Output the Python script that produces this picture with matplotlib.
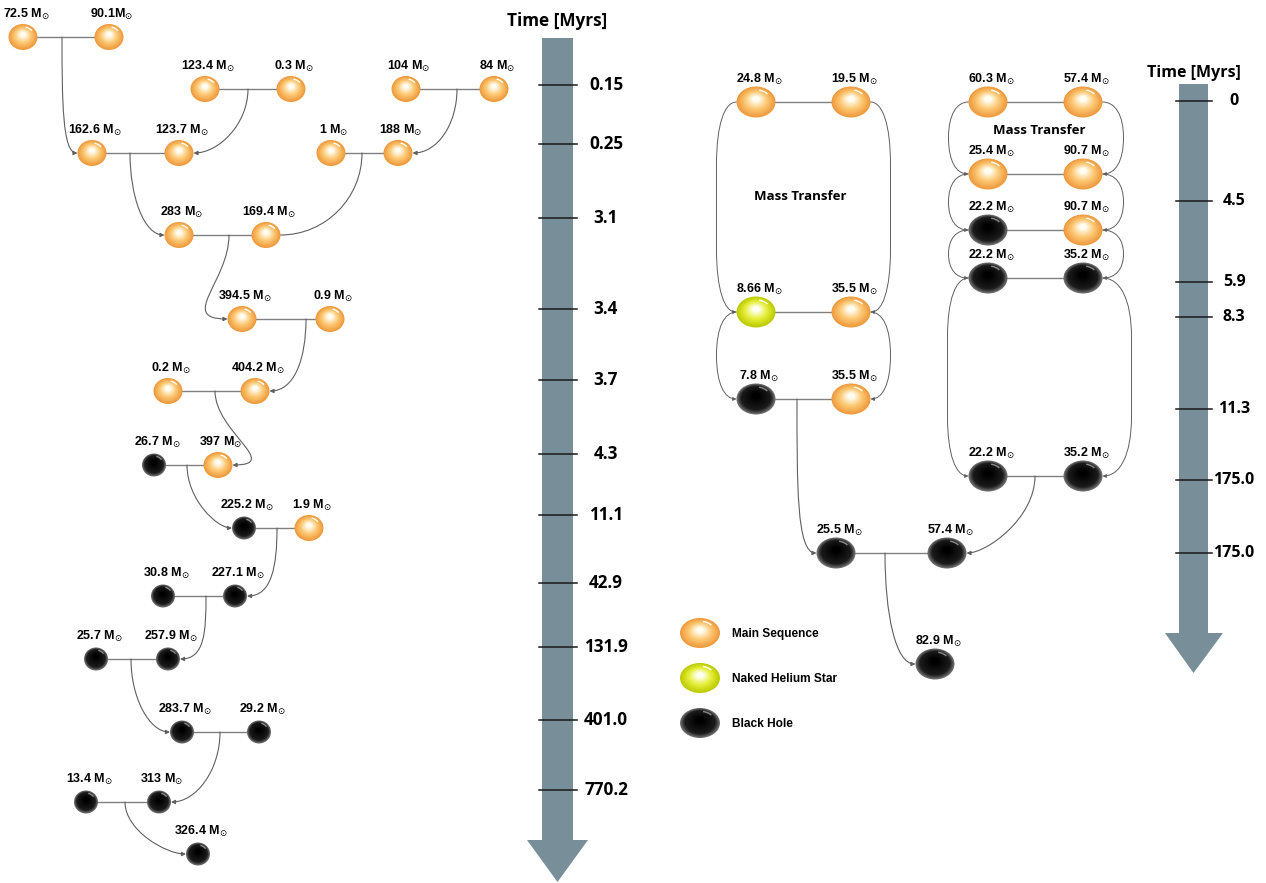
import numpy as np
import matplotlib
matplotlib.use("Agg")
from matplotlib import pyplot as plt
from matplotlib.patches import Ellipse, Arc, Polygon, FancyArrowPatch
from matplotlib.path import Path
from matplotlib.colors import to_rgb

# ---- left evolution track (masses in solar masses) ----
leftLabel = ["72.5 M", "90.1M", "123.4 M", "0.3 M", "104 M", "84 M",
             "162.6 M", "123.7 M", "1 M", "188 M", "283 M", "169.4 M",
             "394.5 M", "0.9 M", "0.2 M", "404.2 M", "26.7 M", "397 M",
             "225.2 M", "1.9 M", "30.8 M", "227.1 M", "25.7 M", "257.9 M",
             "283.7 M", "29.2 M", "13.4 M", "313 M", "326.4 M"]
leftKind = ["ms"] * 16 + ["bh", "ms", "bh", "ms"] + ["bh"] * 9
leftPairs = [(0, 1), (2, 3), (4, 5), (6, 7), (8, 9), (10, 11), (12, 13),
             (14, 15), (16, 17), (18, 19), (20, 21), (22, 23), (24, 25), (26, 27)]
# (pair, target node, side of target)
leftDrops = [(0, 6, "left"), (1, 7, "right"), (2, 9, "right"), (3, 10, "left"),
             (4, 11, "right"), (5, 12, "left"), (6, 15, "right"), (7, 17, "right"),
             (8, 18, "left"), (9, 21, "right"), (10, 23, "right"), (11, 24, "left"),
             (12, 27, "right"), (13, 28, "left")]
leftTimes = ["0.15", "0.25", "3.1", "3.4", "3.7", "4.3", "11.1", "42.9",
             "131.9", "401.0", "770.2"]

# ---- right evolution track ----
rightLabel = ["24.8 M", "19.5 M", "8.66 M", "35.5 M", "7.8 M", "35.5 M",
              "60.3 M", "57.4 M", "25.4 M", "90.7 M", "22.2 M", "90.7 M",
              "22.2 M", "35.2 M", "22.2 M", "35.2 M", "25.5 M", "57.4 M", "82.9 M"]
rightKind = ["ms", "ms", "he", "ms", "bh", "ms", "ms", "ms", "ms", "ms",
             "bh", "ms", "bh", "bh", "bh", "bh", "bh", "bh", "bh"]
rightPairs = [(0, 1), (2, 3), (4, 5), (6, 7), (8, 9), (10, 11), (12, 13),
              (14, 15), (16, 17)]
# mass transfer loops: (from node, to node, side)
rightLoops = [(0, 2, "left"), (1, 3, "right"), (2, 4, "left"), (3, 5, "right"),
              (6, 8, "left"), (7, 9, "right"), (8, 10, "left"), (9, 11, "right"),
              (10, 12, "left"), (11, 13, "right"), (12, 14, "left"), (13, 15, "right")]
rightDrops = [(2, 16, "left"), (8, 18, "left"), (7, 17, "right")]
rightTimes = ["0", "4.5", "5.9", "8.3", "11.3", "175.0", "175.0"]

legendNames = ["Main Sequence", "Naked Helium Star", "Black Hole"]
legendKinds = ["ms", "he", "bh"]

# ---- layout (pixel positions) ----
leftX = [23, 109, 205, 291, 406, 494, 92, 179, 331, 398, 179, 266, 242, 330,
         168, 255, 154, 218, 244, 309, 163, 235, 96, 168, 182, 259, 86, 159, 198]
leftY = [37, 37, 89, 89, 89, 89, 153, 153, 153, 153, 235, 235, 319, 319,
         391, 391, 465, 465, 528, 528, 596, 596, 659, 659, 732, 732, 802, 802, 854]
leftDropX = [62, 248, 457, 130, 362, 229, 306, 215, 187, 277, 206, 131, 220, 125]
leftDropBend = [15, 25, 25, 20, 45, 50, 25, 50, 15, 25, 25, 20, 25, 20]
leftTickY = [85, 144, 218, 309, 380, 454, 515, 583, 647, 720, 790]

rightX = [756, 851, 756, 851, 756, 851, 988, 1083, 988, 1083, 988, 1083,
          988, 1083, 988, 1083, 836, 947, 935]
rightY = [102, 102, 312, 312, 399, 399, 102, 102, 174, 174, 230, 230,
          278, 278, 476, 476, 553, 553, 664]
rightLoopBulge = [20, 20, 20, 20, 20, 21, 20, 21, 20, 21, 21, 29]
rightDropX = [797, 885, 1035]
rightTickY = [101, 201, 282, 317, 409, 480, 553]

palette = {"ms": ("#ef9a3e", "#fcc873", "#fffdf2"),
           "he": ("#bccb00", "#e6ef3a", "#fffff2"),
           "bh": ("#6e6e6e", "#1c1c1c", "#000000")}
arrowGrey = "#606060"
timeColor = "#788f9a"


def mix(c1, c2, t):
    a = np.array(to_rgb(c1))
    b = np.array(to_rgb(c2))
    return tuple(a + (b - a) * t)


def draw_body(ax, x, y, w, h, kind):
    edge, mid, core = palette[kind]
    n = 16
    for i in range(n):
        t = i / (n - 1)
        s = 1 - 0.82 * t
        if kind == "bh":
            c = mix(edge, mid, min(1, t * 4)) if t < 0.25 else mix(mid, core, (t - 0.25) / 0.75)
        else:
            c = mix(edge, mid, t * 2) if t < 0.5 else mix(mid, core, (t - 0.5) * 2)
        ax.add_patch(Ellipse((x, y - 0.1 * h * t), w * s, h * s, fc=c, ec="none", zorder=3))
    hl = "#ffffff" if kind != "bh" else "#8a8a8a"
    ax.add_patch(Arc((x, y), w * 0.78, h * 0.78, theta1=-75, theta2=-35,
                     color=hl, lw=1.0, zorder=4))


def drop_curve(ax, x0, y0, x1, y1, bend, arrow=True):
    dy = y1 - y0
    verts = [(x0, y0), (x0, y0 + 0.55 * dy), (x1 - bend, y1), (x1, y1)]
    codes = [Path.MOVETO, Path.CURVE4, Path.CURVE4, Path.CURVE4]
    style = "-|>" if arrow else "-"
    ax.add_patch(FancyArrowPatch(path=Path(verts, codes), arrowstyle=style,
                                 mutation_scale=6, lw=0.8, color=arrowGrey, zorder=2))


def loop_curve(ax, x, y0, y1, d, b):
    dy = y1 - y0
    r = dy / 2 if dy < 120 else dy * 0.3
    xo = x + d * b
    verts = [(x, y0), (x + d * b * 0.6, y0), (xo, y0 + r * 0.35), (xo, y0 + r),
             (xo, y1 - r), (xo, y1 - r * 0.35), (x + d * b * 0.6, y1), (x, y1)]
    codes = [Path.MOVETO, Path.CURVE4, Path.CURVE4, Path.CURVE4,
             Path.LINETO, Path.CURVE4, Path.CURVE4, Path.CURVE4]
    ax.add_patch(FancyArrowPatch(path=Path(verts, codes), arrowstyle="-|>",
                                 mutation_scale=5, lw=0.7, color=arrowGrey, zorder=2))


def label(ax, x, y, txt):
    ax.text(x + 3, y - 23, txt + r"$_{\odot}$", ha="center", va="center",
            fontsize=9, fontweight="bold", family="Liberation Sans", zorder=5)


def time_arrow(ax, xl, xr, top, neck, hl, hr, tip, ticks, names, lx, title, ty, fs):
    xc = (xl + xr) / 2
    ax.add_patch(Polygon([(xl, top), (xr, top), (xr, neck), (hr, neck), (xc, tip),
                          (hl, neck), (xl, neck)], closed=True, fc=timeColor, ec="none", zorder=1))
    for yy, nm in zip(ticks, names):
        ax.plot([xl - 3, xr + 4], [yy, yy], color="#1a1a1a", lw=1.1, zorder=2)
        ax.text(lx, yy, nm, ha="center", va="center", fontsize=fs,
                fontweight="bold", family="Open Sans", zorder=5)
    ax.text(xc, ty, title, ha="center", va="center", fontsize=fs,
            fontweight="bold", family="Open Sans", zorder=5)


def main():
    fig = plt.figure(figsize=(12.66, 8.83), dpi=100)
    ax = fig.add_axes([0, 0, 1, 1])
    ax.set_xlim(0, 1266)
    ax.set_ylim(883, 0)
    ax.axis("off")

    # left track
    for a, b in leftPairs:
        ax.plot([leftX[a], leftX[b]], [leftY[a], leftY[b]], color="#808080", lw=1.0, zorder=1)
    for k, (p, tgt, side) in enumerate(leftDrops):
        w = 29 if leftKind[tgt] == "ms" else 24
        a = leftPairs[p][0]
        d = 1 if side == "left" else -1
        x1 = leftX[tgt] - d * w / 2
        drop_curve(ax, leftDropX[k], leftY[a], x1, leftY[tgt], d * leftDropBend[k],
                   arrow=(k != 4))
    for i in range(len(leftLabel)):
        if leftKind[i] == "ms":
            draw_body(ax, leftX[i], leftY[i], 29, 26, "ms")
        else:
            draw_body(ax, leftX[i], leftY[i], 24, 23, "bh")
        label(ax, leftX[i], leftY[i], leftLabel[i])

    # right track
    for a, b in rightPairs:
        ax.plot([rightX[a], rightX[b]], [rightY[a], rightY[b]], color="#808080", lw=1.0, zorder=1)
    for k, (a, b, side) in enumerate(rightLoops):
        d = -1 if side == "left" else 1
        loop_curve(ax, rightX[a] + d * 19.5, rightY[a], rightY[b], d, rightLoopBulge[k])
    for k, (p, tgt, side) in enumerate(rightDrops):
        a = rightPairs[p][0]
        d = 1 if side == "left" else -1
        drop_curve(ax, rightDropX[k], rightY[a], rightX[tgt] - d * 19.5, rightY[tgt], d * 20)
    for i in range(len(rightLabel)):
        draw_body(ax, rightX[i], rightY[i], 39, 31, rightKind[i])
        label(ax, rightX[i], rightY[i], rightLabel[i])
    ax.text(800, 197, "Mass Transfer", ha="center", va="center", fontsize=9.5,
            fontweight="bold", family="Open Sans", zorder=5)
    ax.text(1039, 131, "Mass Transfer", ha="center", va="center", fontsize=9.5,
            fontweight="bold", family="Open Sans", zorder=5)

    # legend
    for j, (nm, kd) in enumerate(zip(legendNames, legendKinds)):
        yy = 633 + 45 * j
        draw_body(ax, 700, yy, 40, 30, kd)
        ax.text(732, yy + 1, nm, ha="left", va="center", fontsize=8.6,
                fontweight="bold", family="Liberation Sans", zorder=5)

    # time arrows
    time_arrow(ax, 542, 573, 38, 840, 527, 588, 882, leftTickY, leftTimes, 606,
               "Time [Myrs]", 21, 12.3)
    time_arrow(ax, 1179, 1208, 84, 633, 1165, 1223, 673, rightTickY, rightTimes, 1234,
               "Time [Myrs]", 73, 11.5)

    fig.savefig("out.png", dpi=100)


if __name__ == "__main__":
    main()
